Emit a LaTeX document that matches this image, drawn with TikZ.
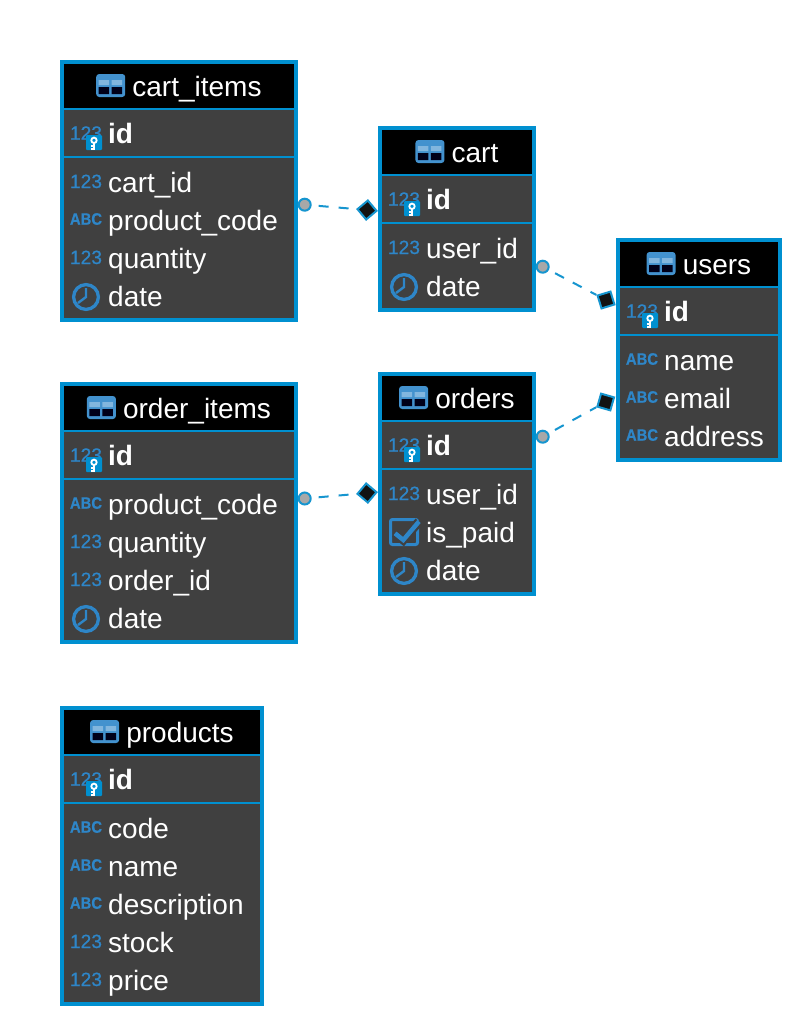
\documentclass[tikz,border=0pt]{standalone}
\usepackage{fontspec}
\setmainfont{Liberation Sans}
\newfontfamily\glyphfont[FakeBold=0.7]{Liberation Sans}
\newfontfamily\abcfont[FakeBold=0.7]{Liberation Sans Bold}
\usepackage{graphicx}
\usetikzlibrary{calc}
\definecolor{FrameClr}{HTML}{0090D0}
\definecolor{IconClr}{HTML}{2E86C8}
\definecolor{BodyClr}{HTML}{404040}
\definecolor{LinkClr}{HTML}{1695CF}
\definecolor{DotClr}{HTML}{A8A8A8}

\tikzset{
  tablebox/.style={draw=FrameClr,line width=4pt,fill=BodyClr,anchor=north west,inner sep=0pt},
  titletext/.style={anchor=base,inner sep=0pt,text=white,text height=20pt,text depth=6pt,font=\fontsize{28}{30}\selectfont},
  rowtext/.style={anchor=base west,inner sep=0pt,text=white,font=\fontsize{28}{30}\selectfont},
  keytext/.style={rowtext,font=\fontsize{28}{30}\selectfont\bfseries},
  numtext/.style={anchor=base,inner sep=0pt,text=IconClr,font=\fontsize{19.2}{20}\glyphfont},
  abctext/.style={anchor=base,inner sep=0pt,text=IconClr,font=\fontsize{16.5}{18}\abcfont},
  dot/.style={circle,draw=LinkClr,fill=DotClr,line width=2pt,inner sep=0pt,minimum size=12pt},
  crow/.style={rectangle,draw=LinkClr,fill=black!93,line width=2pt,inner sep=0pt,minimum size=13.5pt},
  link/.style={draw=LinkClr,line width=2pt,dash pattern=on 10pt off 10pt,dash phase=13pt},
  pics/num/.style={code={\node[numtext] (numglyph) at (0,5) {123};}},
  pics/abc/.style={code={\node[abctext] (abcglyph) at (0,3.7) {\scalebox{.9}[1]{ABC}};}},
  pics/clock/.style={code={
    \draw[IconClr,line width=3.3pt] (0,0) circle (12.4);
    \draw[IconClr,line width=2.4pt] (0,-9) -- (0,0) -- (-8,6);
  }},
  pics/check/.style={code={
    \draw[IconClr,line width=3pt,rounded corners=2pt] (-13.5,-13.5) rectangle (13.5,11.5);
    \draw[BodyClr,line width=9pt] (-9,0.3) -- (-0.7,7) -- (15,-11.5);
    \draw[IconClr,line width=4.5pt] (-9,0.3) -- (-0.7,7) -- (15,-11.5);
  }},
  pics/pkey/.style={code={
    \node[numtext] (numglyph) at (0,5.7) {123};
    \fill[FrameClr,rounded corners=1pt] (0,1) rectangle (16,16);
    \draw[white,line width=1.8pt] (8,6.3) circle (2.7);
    \draw[white,line width=1.8pt] (8,9) -- (8,15.5) (8,12) -- (4.5,12) (8,14.6) -- (4.5,14.6);
  }},
  pics/tableicon/.style={code={
    \fill[IconClr!90!white,rounded corners=3pt] (-29,-11.5) rectangle (0,11.5);
    \fill[IconClr!60!white] (-26.5,-5.5) rectangle (-16,-0.5) (-13.5,-5.5) rectangle (-3,-0.5);
    \fill[black!90!blue] (-26.5,1.5) rectangle (-16,8.5) (-13.5,1.5) rectangle (-3,8.5);
  }}
}

% name, left, width, top, title, other rows, number of rows
\newcommand{\ErTable}[7]{
  \pgfmathsetmacro\boxw{#3-4}
  \pgfmathsetmacro\boxh{85+38*#7+25-4}
  \node[tablebox,minimum width=\boxw pt,minimum height=\boxh pt] (#1) at (#2,#4) {};
  \fill[black] ({#2+4},{#4+4}) rectangle ({#2+#3-4},{#4+48});
  \draw[FrameClr,line width=2pt] ({#2+4},{#4+49}) -- ({#2+#3-4},{#4+49});
  \draw[FrameClr,line width=2pt] ({#2+4},{#4+97}) -- ({#2+#3-4},{#4+97});
  \node[titletext] (#1-title) at ({#2+#3/2+18},{#4+36}) {#5};
  \pic at ($(#1-title.west)+(-7,-3.5)$) {tableicon};
  \pic at ({#2+26},{#4+74}) {pkey};
  \node[keytext] (#1-id) at ({#2+48},{#4+83}) {id};
  \foreach \kind/\colname [count=\i] in {#6} {
    \pgfmathsetmacro\rowy{#4+85+38*\i}
    \pic at ({#2+26},\rowy) {\kind};
    \node[rowtext] (#1-r\i) at ({#2+48},{\rowy+9}) {\colname};
  }
}

\begin{document}
\begin{tikzpicture}[x=1pt,y=-1pt]
\useasboundingbox (0,0) rectangle (802,1026);

\ErTable{cartitems}{60}{238}{60}{cart\_items}{num/cart\_id,abc/product\_code,num/quantity,clock/date}{4}
\ErTable{cart}{378}{158}{126}{cart}{num/user\_id,clock/date}{2}
\ErTable{users}{616}{166}{238}{users}{abc/name,abc/email,abc/address}{3}
\ErTable{orders}{378}{158}{372}{orders}{num/user\_id,check/is\_paid,clock/date}{3}
\ErTable{orderitems}{60}{238}{382}{order\_items}{abc/product\_code,num/quantity,num/order\_id,clock/date}{4}
\ErTable{products}{60}{204}{706}{products}{abc/code,abc/name,abc/description,num/stock,num/price}{5}

\node[dot] (dot1) at (304.7,204.7) {};
\node[crow,rotate=40] (crow1) at (367,210) {};
\draw[link] (dot1) -- (crow1);

\node[dot] (dot2) at (542.7,266.7) {};
\node[crow,rotate=17] (crow2) at (606,300) {};
\draw[link] (dot2) -- (crow2);

\node[dot] (dot3) at (542.7,436.7) {};
\node[crow,rotate=-16] (crow3) at (605.7,402) {};
\draw[link] (dot3) -- (crow3);

\node[dot] (dot4) at (304.7,498.5) {};
\node[crow,rotate=50] (crow4) at (367,493) {};
\draw[link] (dot4) -- (crow4);

\end{tikzpicture}
\end{document}
